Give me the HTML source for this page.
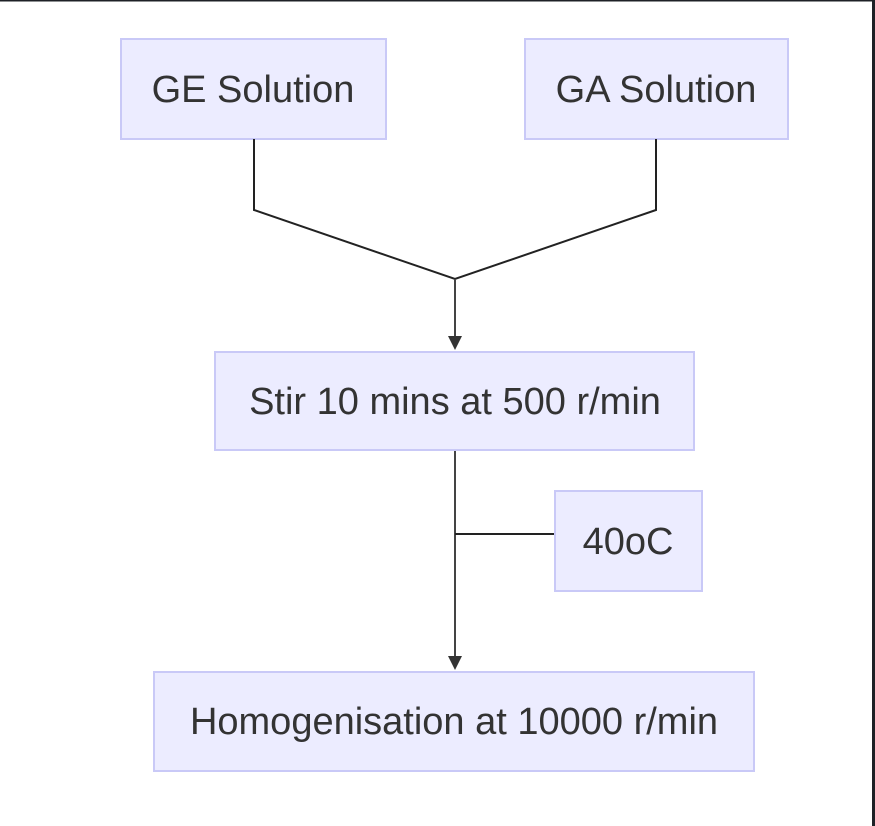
<!DOCTYPE html>
<html><head><meta charset="utf-8"><style>
html,body{margin:0;padding:0;background:#fff;}
svg{display:block;}
text{font-family:"Liberation Sans",Arial,sans-serif;font-size:38px;fill:#333;text-anchor:middle;dominant-baseline:central;}
.b{fill:#ececff;stroke:#c9c9f7;stroke-width:2;}
.l{stroke:#222;stroke-width:2;fill:none;}
.a{stroke:#444;stroke-width:2;fill:none;}
</style></head><body>
<svg width="875" height="826" viewBox="0 0 875 826">
<rect x="0" y="0" width="875" height="1.5" fill="#1e2126"/>
<rect x="872" y="0" width="3" height="826" fill="#1e2126"/>
<rect class="b" x="121" y="39" width="265" height="100"/>
<text x="253" y="90">GE Solution</text>
<rect class="b" x="525" y="39" width="263" height="100"/>
<text x="656" y="90">GA Solution</text>
<polyline class="l" points="254,139 254,210 455,279 656,210 656,139"/>
<line class="a" x1="455" y1="279" x2="455" y2="337"/>
<polygon points="448,336 462,336 455,350" fill="#333"/>
<rect class="b" x="215" y="352" width="479" height="98"/>
<text x="455" y="402">Stir 10 mins at 500 r/min</text>
<line class="a" x1="455" y1="451" x2="455" y2="657"/>
<polygon points="448,656 462,656 455,670" fill="#333"/>
<line class="l" x1="455" y1="534" x2="554" y2="534"/>
<rect class="b" x="555" y="491" width="147" height="100"/>
<text x="628" y="542">40oC</text>
<rect class="b" x="154" y="672" width="600" height="99"/>
<text x="454" y="722">Homogenisation at 10000 r/min</text>
</svg>
</body></html>
